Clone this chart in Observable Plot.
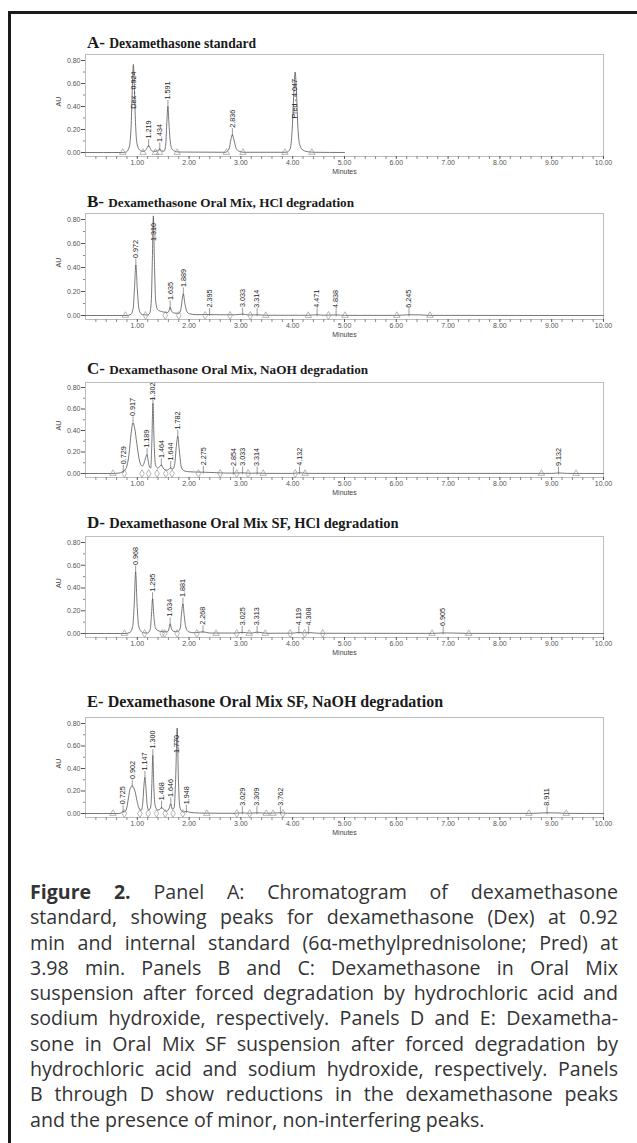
<!DOCTYPE html>
<html><head><meta charset="utf-8">
<script src="https://cdn.jsdelivr.net/npm/d3@7"></script>
<script src="https://cdn.jsdelivr.net/npm/@observablehq/plot@0.6"></script>
<style>
html,body{margin:0;padding:0;background:#fff;}
#page{position:relative;width:637px;height:1143px;overflow:hidden;background:#fff;}
#border{position:absolute;left:8px;top:11px;width:700px;height:1300px;border-top:3px solid #1a1a1a;border-left:3px solid #1a1a1a;}
.title{position:absolute;left:87px;font-family:"Liberation Serif","Times New Roman",serif;font-weight:bold;color:#1a1a1a;white-space:nowrap;line-height:1;}
.panel{position:absolute;left:0;}
#caption{position:absolute;left:30px;width:588px;top:879px;font-family:"Open Sans",sans-serif;font-size:19.6px;color:#333;}
.cl{white-space:nowrap;height:25.3px;line-height:25.3px;}
</style>
</head><body>
<div id="page"><div id="border"></div><div id="caption"></div></div>
<script>
// ---------- DATA ----------
// Panel A: Dexamethasone standard  [minutes, AU]
const traceA = [[0,0],[0.70,0],[0.78,0.004],[0.84,0.04],[0.88,0.22],[0.90,0.50],[0.924,0.765],[0.945,0.55],[0.965,0.26],[0.99,0.09],[1.03,0.03],[1.08,0.012],[1.13,0.01],[1.17,0.025],[1.219,0.06],[1.26,0.025],[1.31,0.01],[1.38,0.012],[1.434,0.03],[1.47,0.012],[1.52,0.012],[1.55,0.08],[1.57,0.26],[1.591,0.40],[1.61,0.26],[1.635,0.10],[1.67,0.03],[1.72,0.012],[1.80,0.004],[2.70,0.002],[2.77,0.03],[2.81,0.12],[2.836,0.155],[2.865,0.11],[2.91,0.035],[2.97,0.01],[3.06,0.002],[3.88,0.002],[3.95,0.03],[3.99,0.20],[4.02,0.50],[4.047,0.70],[4.075,0.50],[4.10,0.22],[4.14,0.06],[4.20,0.02],[4.30,0.006],[4.42,0.002],[5.0,0]];
const peaksA = [0.924,1.219,1.434,1.591,2.836,4.047];
const namesA = ["Dex - 0.924","1.219","1.434","1.591","2.836","Pred - 4.047"];
const triA = [0.72,1.11,1.35,1.43,1.77,2.72,3.04,3.85,4.37];
const diaA = [];

// Panel B: Oral Mix, HCl degradation
const traceB = [[0,0],[0.80,0],[0.88,0.01],[0.92,0.06],[0.945,0.22],[0.972,0.42],[1.0,0.22],[1.03,0.06],[1.07,0.015],[1.13,0.005],[1.20,0.004],[1.24,0.02],[1.27,0.12],[1.29,0.45],[1.310,0.83],[1.33,0.45],[1.355,0.12],[1.39,0.05],[1.45,0.035],[1.52,0.028],[1.59,0.025],[1.615,0.045],[1.635,0.07],[1.66,0.035],[1.72,0.02],[1.80,0.018],[1.84,0.05],[1.865,0.13],[1.889,0.18],[1.915,0.11],[1.95,0.04],[2.0,0.015],[2.15,0.007],[2.395,0.008],[2.6,0.006],[2.9,0.006],[3.033,0.012],[3.15,0.004],[3.314,0.006],[3.5,0.002],[4.3,0.002],[4.471,0.006],[4.6,0.002],[4.838,0.005],[5.0,0.001],[6.0,0.001],[6.245,0.006],[6.45,0.005],[6.65,0.001],[10,0]];
const peaksB = [0.972,1.310,1.635,1.889,2.395,3.033,3.314,4.471,4.838,6.245];
const namesB = ["0.972","1.310","1.635","1.889","2.395","3.033","3.314","4.471","4.838","6.245"];
const triB = [0.77,3.48,4.30,5.01,6.01,6.65];
const diaB = [1.16,1.54,1.80,2.31,2.79,3.18,4.69];

// Panel C: Oral Mix, NaOH degradation
const traceC = [[0,0],[0.50,0],[0.65,0.004],[0.70,0.012],[0.729,0.02],[0.76,0.03],[0.80,0.07],[0.84,0.18],[0.88,0.37],[0.917,0.47],[0.95,0.42],[0.99,0.28],[1.03,0.15],[1.07,0.08],[1.10,0.07],[1.14,0.11],[1.17,0.16],[1.189,0.175],[1.21,0.12],[1.235,0.06],[1.26,0.05],[1.28,0.28],[1.302,0.65],[1.325,0.28],[1.35,0.08],[1.40,0.05],[1.44,0.07],[1.464,0.08],[1.50,0.05],[1.56,0.03],[1.61,0.04],[1.644,0.055],[1.68,0.04],[1.72,0.08],[1.755,0.26],[1.782,0.345],[1.81,0.22],[1.85,0.06],[1.90,0.025],[2.0,0.016],[2.275,0.012],[2.5,0.008],[2.7,0.004],[2.854,0.004],[3.033,0.006],[3.2,0.002],[3.314,0.004],[3.5,0.001],[4.0,0.001],[4.132,0.006],[4.3,0.001],[9.0,0.001],[9.132,0.005],[9.3,0.001],[10,0]];
const peaksC = [0.729,0.917,1.189,1.302,1.464,1.644,1.782,2.275,2.854,3.033,3.314,4.132,9.132];
const namesC = ["0.729","0.917","1.189","1.302","1.464","1.644","1.782","2.275","2.854","3.033","3.314","4.132","9.132"];
const triC = [0.53,3.43,4.24,8.80,9.47];
const diaC = [0.75,1.09,1.22,1.38,1.55,1.67,2.18,2.60,2.92,3.14,4.05];

// Panel D: Oral Mix SF, HCl degradation
const traceD = [[0,0],[0.78,0],[0.86,0.01],[0.91,0.06],[0.94,0.25],[0.968,0.54],[0.995,0.26],[1.025,0.07],[1.07,0.02],[1.12,0.006],[1.20,0.004],[1.25,0.04],[1.272,0.15],[1.295,0.305],[1.32,0.15],[1.35,0.05],[1.40,0.025],[1.50,0.015],[1.58,0.015],[1.61,0.04],[1.634,0.085],[1.66,0.04],[1.70,0.02],[1.78,0.015],[1.83,0.05],[1.855,0.18],[1.881,0.26],[1.905,0.16],[1.94,0.05],[1.99,0.015],[2.1,0.006],[2.268,0.015],[2.4,0.004],[2.9,0.004],[3.025,0.01],[3.2,0.003],[3.313,0.012],[3.5,0.002],[4.0,0.003],[4.119,0.01],[4.2,0.005],[4.308,0.008],[4.5,0.002],[6.7,0.001],[6.905,0.005],[7.1,0.004],[7.4,0.001],[10,0]];
const peaksD = [0.968,1.295,1.634,1.881,2.268,3.025,3.313,4.119,4.308,6.905];
const namesD = ["0.968","1.295","1.634","1.881","2.268","3.025","3.313","4.119","4.308","6.905"];
const triD = [0.75,2.52,3.16,3.47,6.69,7.40];
const diaD = [1.14,1.48,1.53,1.77,2.15,2.92,3.95,4.23,4.58];

// Panel E: Oral Mix SF, NaOH degradation
const traceE = [[0,0],[0.65,0],[0.70,0.01],[0.725,0.02],[0.75,0.015],[0.79,0.04],[0.83,0.14],[0.86,0.22],[0.902,0.245],[0.93,0.23],[0.96,0.19],[1.00,0.10],[1.04,0.04],[1.08,0.03],[1.11,0.12],[1.13,0.26],[1.147,0.32],[1.165,0.24],[1.19,0.08],[1.22,0.03],[1.26,0.06],[1.28,0.25],[1.300,0.515],[1.32,0.22],[1.35,0.06],[1.40,0.03],[1.44,0.04],[1.468,0.055],[1.50,0.04],[1.56,0.02],[1.61,0.04],[1.646,0.085],[1.675,0.04],[1.71,0.05],[1.74,0.30],[1.770,0.76],[1.795,0.28],[1.82,0.06],[1.86,0.02],[1.90,0.012],[1.948,0.02],[2.0,0.012],[2.2,0.004],[2.6,0.002],[2.9,0.002],[3.029,0.006],[3.15,0.002],[3.309,0.006],[3.5,0.002],[3.762,0.006],[3.9,0.002],[8.6,0.001],[8.911,0.006],[9.1,0.005],[9.3,0.001],[10,0]];
const peaksE = [0.725,0.902,1.147,1.300,1.468,1.646,1.770,1.948,3.029,3.309,3.762,8.911];
const namesE = ["0.725","0.902","1.147","1.300","1.468","1.646","1.770","1.948","3.029","3.309","3.762","8.911"];
const triE = [0.53,2.34,3.49,3.62,8.56,9.28];
const diaE = [0.75,1.05,1.21,1.37,1.54,1.69,1.88,2.92,3.17,3.81];

const yTicks = [0, 0.2, 0.4, 0.6, 0.8];
const yMinor = [0.1, 0.3, 0.5, 0.7];
const xTicks = [1,2,3,4,5,6,7,8,9,10];
const xMinor = d3.range(1, 50).filter(i => i % 5).map(i => i / 5);

const captionLines = [
  "<b>Figure 2.</b> Panel A: Chromatogram of dexamethasone",
  "standard, showing peaks for dexamethasone (Dex) at 0.92",
  "min and internal standard (6\u03b1-methylprednisolone; Pred) at",
  "3.98 min. Panels B and C: Dexamethasone in Oral Mix",
  "suspension after forced degradation by hydrochloric acid and",
  "sodium hydroxide, respectively. Panels D and E: Dexametha-",
  "sone in Oral Mix SF suspension after forced degradation by",
  "hydrochloric acid and sodium hydroxide, respectively. Panels",
  "B through D show reductions in the dexamethasone peaks",
  "and the presence of minor, non-interfering peaks."
];

// ---------- LAYOUT ----------
const panels = [
  {big:"A-", rest:"Dexamethasone standard", bigSize:17, restSize:13.6, titleTop:34, trace:traceA, peaks:peaksA, names:namesA, tri:triA, dia:diaA, frameTop:54, topPad:6, ppu:115},
  {big:"B-", rest:"Dexamethasone Oral Mix, HCl degradation", bigSize:17, restSize:13.2, titleTop:193, trace:traceB, peaks:peaksB, names:namesB, tri:triB, dia:diaB, frameTop:213, topPad:6, ppu:120},
  {big:"C-", rest:"Dexamethasone Oral Mix, NaOH degradation", bigSize:17, restSize:13.2, titleTop:360, trace:traceC, peaks:peaksC, names:namesC, tri:triC, dia:diaC, frameTop:382, topPad:5, ppu:107.5},
  {big:"D-", rest:"Dexamethasone Oral Mix SF, HCl degradation", bigSize:17, restSize:14.5, titleTop:514, trace:traceD, peaks:peaksD, names:namesD, tri:triD, dia:diaD, frameTop:536, topPad:6, ppu:113.75},
  {big:"E-", rest:"Dexamethasone Oral Mix SF, NaOH degradation", bigSize:16.5, restSize:16, titleTop:694, trace:traceE, peaks:peaksE, names:namesE, tri:triE, dia:diaE, frameTop:717, topPad:6, ppu:112.5}
];

const LABEL_FONT = 7.2;
const ctx = document.createElement("canvas").getContext("2d");
ctx.font = LABEL_FONT + "px 'Liberation Sans'";
const measure = s => ctx.measureText(s).width;

const page = document.getElementById("page");
const fmt2 = d3.format(".2f");

panels.forEach(p => {
  const ymax = 0.8 + p.topPad / p.ppu;
  const ymin = -4 / p.ppu;
  const frameH = (ymax - ymin) * p.ppu;
  const mt = 4, mb = 30;
  const peaks = p.peaks.map((t, i) => {
    const pt = p.trace.find(d => Math.abs(d[0] - t) < 1e-9);
    const h = pt ? pt[1] : 0;
    const apexPx = (ymax - h) * p.ppu;
    const len = measure(p.names[i]);
    const avail = apexPx - len;
    const above = avail >= 0;
    const gap = above ? Math.min(7, Math.max(1, avail)) : 7;
    return {t, h, name: p.names[i], above, ly: above ? h + gap / p.ppu : h - gap / p.ppu};
  });
  const above = peaks.filter(d => d.above), hang = peaks.filter(d => !d.above);

  const chart = Plot.plot({
    width: 637, height: frameH + mt + mb,
    marginLeft: 85, marginRight: 34, marginTop: mt, marginBottom: mb,
    style: {fontFamily: "'Liberation Sans', Arial, sans-serif", fontSize: "7px", background: "transparent", overflow: "visible", color: "#444"},
    x: {domain: [0, 10]},
    y: {domain: [ymin, ymax]},
    marks: [
      Plot.frame({stroke: "#bdbdbd", strokeWidth: 1}),
      Plot.axisY(yTicks, {tickSize: 4, tickPadding: 1, tickFormat: fmt2, label: null, color: "#555", fontSize: 7}),
      Plot.axisY(yMinor, {tickSize: 2, tickFormat: () => "", label: null, color: "#888"}),
      Plot.axisX(xTicks, {tickSize: 3, tickPadding: 1, tickFormat: fmt2, label: null, color: "#555", fontSize: 7}),
      Plot.axisX(xMinor, {tickSize: 3, tickFormat: () => "", label: null, color: "#888"}),
      Plot.text([5], {x: d => d, frameAnchor: "bottom", dy: 17, text: () => "Minutes", fontSize: 7, fill: "#444"}),
      Plot.text([0.4], {y: d => d, frameAnchor: "left", dx: -27, rotate: -90, text: () => "AU", fontSize: 7, fill: "#444"}),
      Plot.line(p.trace, {x: d => d[0], y: d => d[1], curve: "monotone-x", stroke: "#555", strokeWidth: 0.8}),
      Plot.dot(p.tri, {x: d => d, y: 0, symbol: "triangle", r: 2.4, stroke: "#888", strokeWidth: 0.6, fill: "none"}),
      Plot.dot(p.dia, {x: d => d, y: 0, symbol: "diamond", r: 2.4, stroke: "#888", strokeWidth: 0.6, fill: "none"}),
      Plot.ruleX(above, {x: "t", y1: d => d.h - 2 / p.ppu, y2: d => d.h + 6 / p.ppu, stroke: "#555", strokeWidth: 0.6}),
      Plot.text(above, {x: "t", y: "ly", text: "name", rotate: -90, textAnchor: "start", fontSize: LABEL_FONT, fill: "#222"}),
      Plot.text(hang, {x: "t", y: "ly", text: "name", rotate: -90, textAnchor: "end", fontSize: LABEL_FONT, fill: "#222"})
    ]
  });
  const wrap = document.createElement("div");
  wrap.className = "panel";
  wrap.style.top = (p.frameTop - mt) + "px";
  wrap.appendChild(chart);
  page.appendChild(wrap);

  const title = document.createElement("div");
  title.className = "title";
  title.style.top = p.titleTop + "px";
  title.style.fontSize = p.bigSize + "px";
  title.innerHTML = `<span style="font-size:${p.bigSize}px">${p.big}</span> <span style="font-size:${p.restSize}px">${p.rest}</span>`;
  page.appendChild(title);
});

// caption with explicit line breaks, justified by word spacing
const cap = document.getElementById("caption");
const CAPW = 588;
captionLines.forEach((ln, i) => {
  const div = document.createElement("div");
  div.className = "cl";
  const span = document.createElement("span");
  span.innerHTML = ln;
  div.appendChild(span);
  cap.appendChild(div);
  if (i < captionLines.length - 1) {
    const w = span.getBoundingClientRect().width;
    const spaces = (span.textContent.match(/ /g) || []).length;
    const extra = (CAPW - w) / spaces;
    if (extra >= -1.5) span.style.wordSpacing = extra + "px";
    else span.style.letterSpacing = ((CAPW - w) / span.textContent.length) + "px";
  }
});
</script>
</body></html>
